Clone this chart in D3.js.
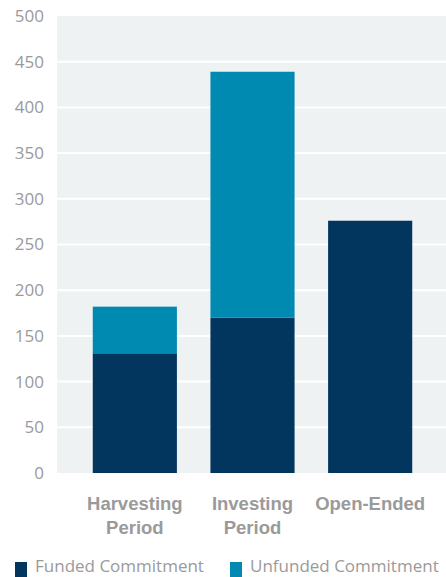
<!DOCTYPE html>
<html>
<head>
<meta charset="utf-8">
<script src="https://cdn.jsdelivr.net/npm/d3@7"></script>
<style>
  html, body { margin: 0; padding: 0; background: #fff; }
  svg { display: block; font-family: "Open Sans", "Noto Sans", sans-serif; }
</style>
</head>
<body>
<svg id="chart" width="446" height="577"></svg>
<script>
// Commitment by fund stage
const categories = [["Harvesting", "Period"], ["Investing", "Period"], ["Open-Ended"]];
const seriesNames = ["Funded Commitment", "Unfunded Commitment"];
const funded = [131, 170, 276];
const unfunded = [51, 269, 0];
const yTicks = [0, 50, 100, 150, 200, 250, 300, 350, 400, 450, 500];

const colors = ["#02365e", "#0089b1"];
const textGray = "#9a9a9a";

const svg = d3.select("#chart");
const plot = { left: 57, right: 446, top: 16, bottom: 473 };

const keys = categories.map(c => c.join(" "));
const rows = keys.map((k, i) => ({ key: k, funded: funded[i], unfunded: unfunded[i] }));
const stack = d3.stack().keys(["funded", "unfunded"])(rows);

const x = d3.scaleBand().domain(keys).range([76, 429]).paddingInner(0.285).paddingOuter(0.1425);
const y = d3.scaleLinear().domain([0, 500]).range([plot.bottom, plot.top]);

// plot background
svg.append("rect")
  .attr("x", plot.left).attr("y", plot.top)
  .attr("width", plot.right - plot.left).attr("height", plot.bottom - plot.top)
  .attr("fill", "#eef2f3");

// horizontal gridlines
svg.append("g").selectAll("line").data(yTicks.filter(t => t > 0 && t < 500)).join("line")
  .attr("x1", plot.left).attr("x2", plot.right)
  .attr("y1", d => y(d)).attr("y2", d => y(d))
  .attr("stroke", "#fff").attr("stroke-width", 2);

// y axis labels
const yAxis = d3.axisLeft(y).tickValues(yTicks).tickSize(0).tickPadding(13);
const yg = svg.append("g").attr("transform", `translate(${plot.left},0)`).call(yAxis);
yg.select(".domain").remove();
yg.selectAll("text").attr("fill", textGray).attr("font-size", 17)
  .attr("font-family", "'Open Sans', sans-serif");

// stacked bars
svg.append("g").selectAll("g").data(stack).join("g")
  .attr("fill", (d, i) => colors[i])
  .selectAll("rect").data(d => d).join("rect")
  .attr("x", d => x(d.data.key))
  .attr("width", x.bandwidth())
  .attr("y", d => y(d[1]))
  .attr("height", d => y(d[0]) - y(d[1]));

// category labels
const xAxis = d3.axisBottom(x).tickSize(0).tickFormat("");
const xg = svg.append("g").attr("transform", `translate(0,${plot.bottom})`).call(xAxis);
xg.select(".domain").remove();
xg.selectAll(".tick").each(function (d, i) {
  const t = d3.select(this).append("text")
    .attr("text-anchor", "middle")
    .attr("fill", textGray)
    .attr("font-size", 18.5)
    .attr("font-weight", "bold");
  categories[i].forEach((line, j) => {
    t.append("tspan").attr("x", 0).attr("y", 37 + j * 23.5).text(line);
  });
});

// legend
const legend = svg.append("g").attr("transform", "translate(15,572)");
const legendX = [0, 215];
seriesNames.forEach((name, i) => {
  const g = legend.append("g").attr("transform", `translate(${legendX[i]},0)`);
  g.append("rect").attr("x", 0).attr("y", -10).attr("width", 12).attr("height", 15).attr("fill", colors[i]);
  g.append("text").attr("x", 20).attr("y", 0)
    .attr("fill", textGray).attr("font-size", 17).text(name);
});
</script>
</body>
</html>
